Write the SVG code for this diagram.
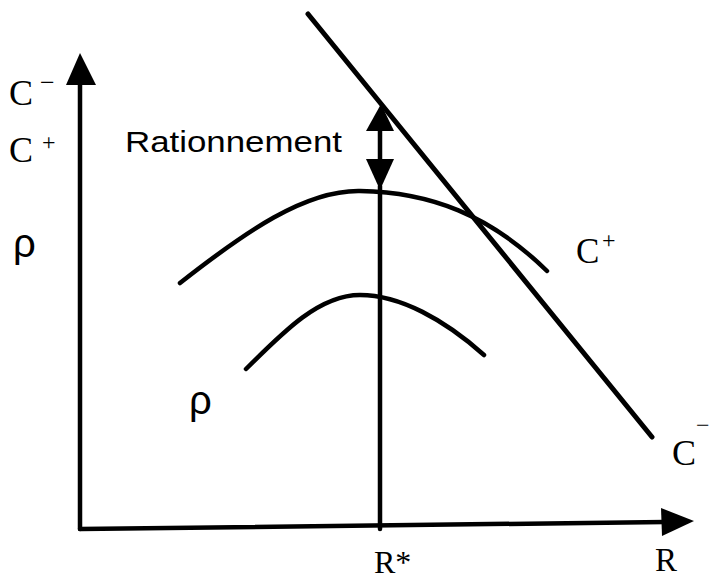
<svg xmlns="http://www.w3.org/2000/svg" width="710" height="579" viewBox="0 0 710 579">
<style>
.ln{fill:none;stroke:#000;stroke-width:4.5;stroke-linecap:round}
.hd{fill:#000;stroke:none}
.serif{font-family:"Liberation Serif","Times New Roman",serif;fill:#000}
.sans{font-family:"Liberation Sans",Arial,sans-serif;fill:#000}
</style>
<rect width="710" height="579" fill="#fff"/>
<g id="axes">
<line class="ln" x1="80" y1="529" x2="80" y2="80"/>
<polygon class="hd" points="80,53 96,85 66,85"/>
<line class="ln" x1="80" y1="529" x2="665" y2="522"/>
<polygon class="hd" points="694,521 661,508 662,536"/>
</g>
<g id="budget-line">
<line class="ln" x1="308" y1="14" x2="652" y2="437" style="stroke-width:5"/>
</g>
<g id="curve-upper">
<path class="ln" d="M180,283 C245,232 305,190 360,191 C430,192 490,215 547,271"/>
</g>
<g id="curve-lower">
<path class="ln" d="M246,369 C285,330 320,295 360,295 C400,295 445,320 484,355"/>
</g>
<g id="rstar-line">
<line class="ln" x1="380" y1="529" x2="380" y2="186"/>
</g>
<g id="rationing-arrow">
<line class="ln" x1="380" y1="128" x2="380" y2="162"/>
<polygon class="hd" points="381,104 394,131 366,131"/>
<polygon class="hd" points="380,190 394,159 366,159"/>
</g>
<g id="labels">
<text class="serif" x="9" y="105" font-size="36">C<tspan x="40" y="91" font-size="26">−</tspan></text>
<text class="serif" x="9" y="162" font-size="36">C<tspan x="42" y="150" font-size="24">+</tspan></text>
<text class="sans" x="13" y="257" font-size="40">ρ</text>
<text class="sans" x="125" y="152" font-size="30" textLength="217" lengthAdjust="spacingAndGlyphs">Rationnement</text>
<text class="serif" x="576" y="263" font-size="35">C<tspan x="602" y="248" font-size="24">+</tspan></text>
<text class="serif" x="672" y="465" font-size="36">C<tspan x="696" y="433" font-size="24">−</tspan></text>
<text class="sans" x="189" y="414" font-size="40">ρ</text>
<text class="serif" x="374" y="573" font-size="32">R*</text>
<text class="serif" x="655" y="571" font-size="33">R</text>
</g>
</svg>
